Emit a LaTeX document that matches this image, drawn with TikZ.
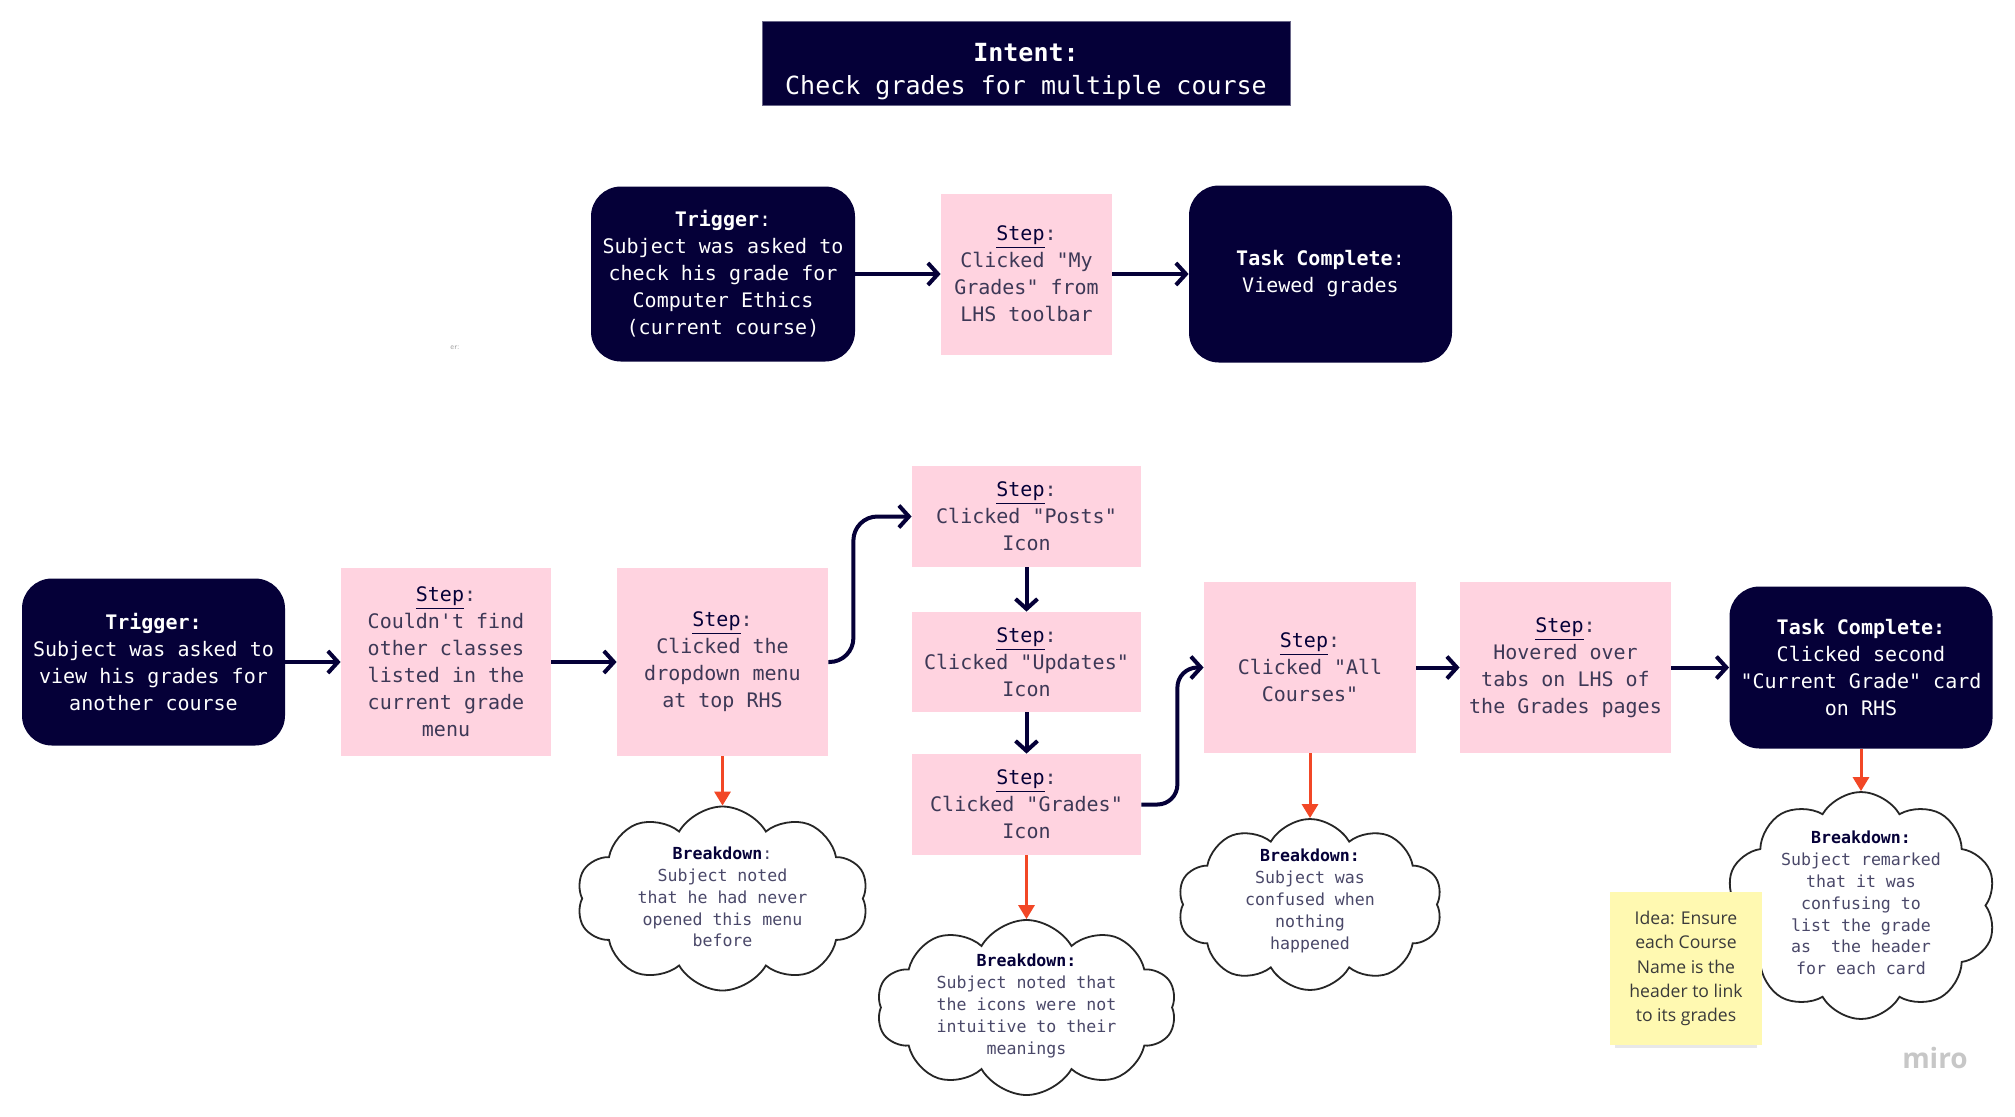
\documentclass[tikz,border=0pt]{standalone}
\usepackage[]{xcolor}
\usepackage{tikz}
\usepackage{fontspec}
\setmonofont{DejaVu Sans Mono}
\newfontfamily\notefont{Open Sans}
\usetikzlibrary{arrows.meta,shapes.symbols,shadows}

\definecolor{navy}{HTML}{050038}
\definecolor{stepfill}{HTML}{FFD3E0}
\definecolor{stepink}{HTML}{3D3856}
\definecolor{cloudink}{HTML}{4A4869}
\definecolor{alarm}{HTML}{F24726}
\definecolor{sticky}{HTML}{FFF9B1}
\definecolor{noteink}{HTML}{3A3A3A}

\begin{document}
\begin{tikzpicture}[x=0.5pt,y=-0.5pt,
    dark/.style={fill=navy, text=white, rounded corners=15pt, align=center, inner sep=0pt,
      font=\ttfamily\fontsize{10}{13.5}\selectfont},
    stepbox/.style={fill=stepfill, text=stepink, align=center, inner sep=0pt,
      font=\ttfamily\fontsize{10}{13.5}\selectfont},
    breakdown/.style={cloud, cloud puffs=10, cloud puff arc=120, cloud ignores aspect,
      draw=black!85, line width=0.9pt, fill=white, inner sep=0pt},
    cloudtext/.style={align=center, text=cloudink, font=\ttfamily\fontsize{8.3}{10.9}\selectfont},
    flow/.style={draw=navy, line width=2pt, -{Straight Barb[length=5pt,width=11pt]}},
    alarmarrow/.style={draw=alarm, line width=1.5pt, -{Triangle[length=7pt,width=8pt]}}]
        \fill[white] (0,0) rectangle (2015,1116);
        \useasboundingbox (0,0) rectangle (2015,1116);

        % intent
        \node[dark, sharp corners, draw=navy!60, line width=0.5pt, minimum width=264pt, minimum height=42pt,
          text height=34pt, font=\ttfamily\fontsize{12.5}{16.5}\selectfont] (intent) at (1026,63)
          {\textbf{Intent:}\\Check grades for multiple course};

        % first attempt
        \node[dark, minimum width=132pt, minimum height=87.5pt] (trig1) at (723,274)
          {\textbf{Trigger}:\\Subject was asked to\\check his grade for\\Computer Ethics\\(current course)};
        \node[stepbox, minimum width=85.5pt, minimum height=80.5pt] (steptop) at (1026.5,274)
          {{\color{navy}\underline{Step}}:\\Clicked "My\\Grades" from\\LHS toolbar};
        \node[dark, minimum width=131.5pt, minimum height=88.5pt] (tasktop) at (1320.5,274)
          {\textbf{Task Complete}:\\Viewed grades};
        \node[text=gray!70, font=\sffamily\fontsize{4}{4}\selectfont] (stray) at (455,348) {er:};

        % second attempt
        \node[dark, minimum width=131.5pt, minimum height=83.5pt] (trig2) at (153.5,662)
          {\textbf{Trigger:}\\Subject was asked to\\view his grades for\\another course};
        \node[stepbox, minimum width=105pt, minimum height=94pt] (nofind) at (446,662)
          {{\color{navy}\underline{Step}}:\\Couldn't find\\other classes\\listed in the\\current grade\\menu};
        \node[stepbox, minimum width=105.5pt, minimum height=94pt] (dropdown) at (722.5,662)
          {{\color{navy}\underline{Step}}:\\Clicked the\\dropdown menu\\at top RHS};
        \node[stepbox, minimum width=114.5pt, minimum height=50.5pt] (posts) at (1026.5,516.5)
          {{\color{navy}\underline{Step}}:\\Clicked "Posts"\\Icon};
        \node[stepbox, minimum width=114.5pt, minimum height=50pt] (updates) at (1026.5,662)
          {{\color{navy}\underline{Step}}:\\Clicked "Updates"\\Icon};
        \node[stepbox, minimum width=114.5pt, minimum height=50.5pt] (grades) at (1026.5,804.5)
          {{\color{navy}\underline{Step}}:\\Clicked "Grades"\\Icon};
        \node[stepbox, minimum width=106pt, minimum height=85.5pt] (allc) at (1310,667.5)
          {{\color{navy}\underline{Step}}:\\Clicked "All\\Courses"};
        \node[stepbox, minimum width=105.5pt, minimum height=85.5pt] (hover) at (1565.5,667.5)
          {{\color{navy}\underline{Step}}:\\Hovered over\\tabs on LHS of\\the Grades pages};
        \node[dark, minimum width=131.5pt, minimum height=81pt] (task2) at (1861,667.5)
          {\textbf{Task Complete:}\\Clicked second\\"Current Grade" card\\on RHS};

        \draw[flow] (trig1) -- (steptop);
        \draw[flow] (steptop) -- (tasktop);
        \draw[flow] (trig2) -- (nofind);
        \draw[flow] (nofind) -- (dropdown);
        \draw[flow, rounded corners=12pt] (dropdown.east) -- ++(25,0) |- (posts.west);
        \draw[flow] (posts) -- (updates);
        \draw[flow] (updates) -- (grades);
        \draw[flow, rounded corners=10pt] (grades.east) -- ++(36,0) |- (allc.west);
        \draw[flow] (allc) -- (hover);
        \draw[flow] (hover) -- (task2);

        % breakdowns
        \node[breakdown, minimum width=146pt, minimum height=92pt] (bd1) at (722.5,898.5) {};
        \node[cloudtext] (bd1t) at (722.5,897)
          {{\color{navy}\textbf{Breakdown}}:\\Subject noted\\that he had never\\opened this menu\\before};
        \node[breakdown, minimum width=150pt, minimum height=87.5pt] (bd2) at (1026.5,1007.5) {};
        \node[cloudtext] (bd2t) at (1026.5,1006)
          {{\color{navy}\textbf{Breakdown:}}\\Subject noted that\\the icons were not\\intuitive to their\\meanings};
        \node[breakdown, minimum width=132.5pt, minimum height=85.5pt] (bd3) at (1310,904.5) {};
        \node[cloudtext] (bd3t) at (1310,901)
          {{\color{navy}\textbf{Breakdown:}}\\Subject was\\confused when\\nothing\\happened};
        \node[breakdown, minimum width=135.5pt, minimum height=113.5pt] (bd4) at (1861,905.5) {};
        \node[cloudtext] (bd4t) at (1861,903)
          {{\color{navy}\textbf{Breakdown:}}\\Subject remarked\\that it was\\confusing to\\list the grade\\as\ \ the header\\for each card};

        \draw[alarmarrow] (dropdown.south) -- (bd1.north);
        \draw[alarmarrow] (grades.south) -- (bd2.north);
        \draw[alarmarrow] (allc.south) -- (bd3.north);
        \draw[alarmarrow] (task2.south) -- (bd4.north);

        % idea note
        \node[fill=sticky, text=noteink, align=center, minimum width=76pt, minimum height=76.5pt, inner sep=0pt,
          drop shadow={shadow xshift=0pt, shadow yshift=-4pt, opacity=0.18, shadow scale=0.94},
          font=\notefont\fontsize{8.8}{12.2}\selectfont] (idea) at (1686,968.5)
          {Idea: Ensure\\each Course\\Name is the\\header to link\\to its grades};

        \node[text=black!22, font=\notefont\bfseries\fontsize{14}{14}\selectfont] (miro) at (1935,1058) {miro};
\end{tikzpicture}
\end{document}
